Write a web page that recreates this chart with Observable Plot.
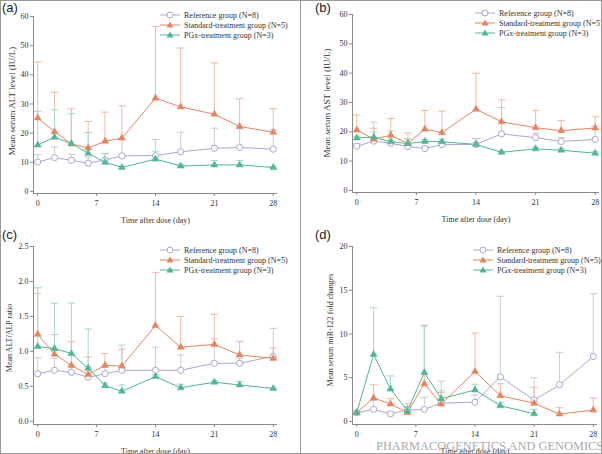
<!DOCTYPE html>
<html><head><meta charset="utf-8">
<script src="https://cdn.jsdelivr.net/npm/d3@7"></script>
<script src="https://cdn.jsdelivr.net/npm/@observablehq/plot@0.6"></script>
<style>
body{margin:0;background:#fff;}
#root{position:relative;width:602px;height:454px;overflow:hidden;font-family:"Liberation Serif","Times New Roman",serif;}
.panel{position:absolute;width:301px;height:227px;}
.letter{position:absolute;font-family:"Liberation Sans",Arial,sans-serif;font-size:13px;color:#222;}
.legend{position:absolute;font-size:8px;color:#333;}
.legend .row{display:flex;align-items:center;height:10px;white-space:nowrap;}
.legend svg{margin-right:2px;}
.ylab{position:absolute;white-space:nowrap;color:#333;transform:translate(-50%,-50%) rotate(-90deg);}
.border{position:absolute;border:1px solid #9a9a9a;box-sizing:border-box;}
.wm{position:absolute;font-family:"Liberation Serif",serif;font-size:12.4px;line-height:1;color:#aaa;white-space:nowrap;}
</style></head>
<body><div id="root"></div>
<script>
// ---------- data ----------
const days = [0, 2, 4, 6, 8, 10, 14, 17, 21, 24, 28];
const xTicks = [0, 7, 14, 21, 28];
const groupNames = ["Reference group (N=8)", "Standard-treatment group (N=5)", "PGx-treatment group (N=3)"];

// (a) ALT
const altRef      = [10.1, 11.6, 10.7, 9.7, 10.8, 12.2, 12.3, 13.6, 14.8, 15.1, 14.5];
const altRefUp    = [12.7, 15.3, 12.7, 11.8, 13.0, 18.0, 17.8, 20.3, 21.7, 21.5, 21.2];
const altStd      = [25.2, 20.5, 16.3, 14.9, 17.2, 18.3, 32.0, 29.0, 26.5, 22.3, 20.3];
const altStdUp    = [44.4, 34.0, 28.3, 24.0, 27.2, 29.4, 56.6, 49.2, 44.1, 31.8, 28.4];
const altPgx      = [15.9, 18.6, 16.4, 13.1, 10.0, 8.2, 11.1, 8.7, 9.1, 9.1, 8.2];
const altPgxUp    = [27.5, 28.0, 26.7, 20.2, 13.0, 8.6, 13.8, 9.3, 10.6, 10.6, 8.6];

// (b) AST
const astRef      = [15.1, 16.8, 16.1, 15.0, 14.3, 15.6, 15.7, 19.3, 18.0, 16.7, 17.4];
const astRefUp    = [16.0, 23.3, 17.5, 17.5, 15.0, 16.5, 17.7, 28.3, 19.5, 18.0, 22.0];
const astStd      = [20.6, 17.5, 18.8, 16.0, 20.9, 19.7, 27.7, 23.4, 21.4, 20.4, 21.3];
const astStdUp    = [25.7, 21.2, 24.5, 19.6, 27.3, 27.1, 40.0, 30.9, 27.2, 23.8, 25.1];
const astPgx      = [17.9, 18.2, 16.6, 16.0, 16.7, 16.6, 15.7, 13.0, 14.2, 13.7, 12.7];
const astPgxUp    = [18.5, 20.0, 20.2, 17.5, 17.3, 17.5, 17.7, 13.5, 14.8, 14.3, 13.2];

// (c) ALT/ALP ratio
const ratRef      = [0.68, 0.73, 0.70, 0.63, 0.68, 0.73, 0.73, 0.73, 0.83, 0.83, 0.93];
const ratRefUp    = [0.91, 0.90, 0.80, 0.78, 0.80, 1.09, 1.06, 0.95, 1.18, 0.90, 1.33];
const ratStd      = [1.245, 0.96, 0.80, 0.67, 0.80, 0.79, 1.37, 1.06, 1.10, 0.95, 0.90];
const ratStdUp    = [1.83, 1.24, 1.14, 0.92, 0.97, 1.03, 2.13, 1.50, 1.53, 1.14, 1.05];
const ratPgx      = [1.07, 1.04, 0.97, 0.76, 0.51, 0.43, 0.64, 0.48, 0.56, 0.52, 0.47];
const ratPgxUp    = [1.91, 1.69, 1.69, 1.32, 0.55, 0.52, 0.67, 0.53, 0.58, 0.57, 0.48];

// (d) miR-122 fold changes
const mirRef      = [1.0, 1.38, 0.88, 1.3, 1.38, 2.1, 2.2, 5.1, 2.45, 4.18, 7.43];
const mirRefUp    = [1.1, 2.4, 1.1, 1.7, 2.76, 4.6, 3.0, 14.3, 5.0, 7.9, 14.6];
const mirStd      = [1.0, 2.68, 2.0, 1.03, 4.3, 2.0, 5.7, 2.95, 2.07, 0.84, 1.3];
const mirStdUp    = [1.05, 4.2, 2.6, 2.03, 10.9, 3.3, 10.1, 4.3, 3.9, 1.57, 2.68];
const mirPgx      = [1.0, 7.66, 3.7, 1.2, 5.6, 2.6, 3.6, 1.8, 0.88, null, null];
const mirPgxUp    = [1.05, 13.0, 5.2, 1.5, 11.0, 3.5, 4.25, 2.2, 1.38, null, null];

// ---------- styles ----------
const lineColors = ["#a4a9d2", "#e8835e", "#4db891"];
const errColors  = ["#c9cbd8", "#f1b8a0", "#a3dbc5"];
const symbols    = ["circle", "triangle", "triangle"];
const axisColor  = "#8a8a8a";

const panels = [
  {letter:"(a)", left:0, top:0, ml:33, mr:24, mt:16, mb:34, yDomain:[-0.7,60], yTicks:[0,10,20,30,40,50,60], fmt:d3.format("d"),
   yLabel:"Mean serum ALT level (IU/L)", ylPos:[12,101], ylSize:9, series:[[altRef,altRefUp],[altStd,altStdUp],[altPgx,altPgxUp]],
   letterPos:[2,0], legendPos:[160,10]},
  {letter:"(b)", left:301, top:0, ml:51, mr:3, mt:14, mb:35, yDomain:[-0.7,60], yTicks:[0,10,20,30,40,50,60], fmt:d3.format("d"),
   yLabel:"Mean serum AST level (IU/L)", ylPos:[26,103], ylSize:9, series:[[astRef,astRefUp],[astStd,astStdUp],[astPgx,astPgxUp]],
   letterPos:[14,0], legendPos:[174,8]},
  {letter:"(c)", left:0, top:227, ml:33, mr:24, mt:19, mb:30, yDomain:[-0.045,2.5], yTicks:[0,0.5,1,1.5,2,2.5], fmt:d3.format(".1f"),
   yLabel:"Mean ALT/ALP ratio", ylPos:[9,111], ylSize:8, series:[[ratRef,ratRefUp],[ratStd,ratStdUp],[ratPgx,ratPgxUp]],
   letterPos:[2,0], legendPos:[160,18]},
  {letter:"(d)", left:301, top:227, ml:51, mr:5, mt:19, mb:30, yDomain:[-0.35,20], yTicks:[0,5,10,15,20], fmt:d3.format("d"),
   yLabel:"Mean serum miR-122 fold changes", ylPos:[29,103], ylSize:8, series:[[mirRef,mirRefUp],[mirStd,mirStdUp],[mirPgx,mirPgxUp]],
   letterPos:[14,0], legendPos:[172,18]}
];

const root = document.getElementById("root");

function rowsOf(vals, ups){
  return days.map((d,i)=>({day:d, mean:vals[i], upper:ups[i]})).filter(r=>r.mean!=null);
}

for (const p of panels){
  const data = p.series.map(([v,u])=>rowsOf(v,u));
  const marks = [
    Plot.ruleX([-0.5], {stroke:axisColor}),
    Plot.ruleY([p.yDomain[0]], {stroke:axisColor}),
    Plot.axisX({ticks:xTicks, tickSize:3, tickPadding:4, stroke:axisColor, color:"#333",
      label:"Time after dose (day)", labelAnchor:"center", labelOffset:29, labelArrow:"none"}),
    Plot.axisY({ticks:p.yTicks, tickFormat:p.fmt, tickSize:3, tickPadding:2, stroke:axisColor, color:"#333", label:null})
  ];
  data.forEach((rows,k)=>{
    const er = rows.filter(r=>r.upper!=null);
    marks.push(Plot.ruleX(er, {x:"day", y1:"mean", y2:"upper", stroke:errColors[k], strokeWidth:1}));
    marks.push(Plot.link(er, {x1:r=>r.day-0.45, x2:r=>r.day+0.45, y1:"upper", y2:"upper", stroke:errColors[k], strokeWidth:1}));
  });
  data.forEach((rows,k)=>{
    marks.push(Plot.line(rows, {x:"day", y:"mean", stroke:lineColors[k], strokeWidth:1}));
  });
  data.forEach((rows,k)=>{
    marks.push(Plot.dot(rows, {x:"day", y:"mean", symbol:symbols[k], r: k===0?3.1:2.6,
      fill: k===0 ? "white" : lineColors[k], stroke: lineColors[k], strokeWidth: k===0?1:0.5}));
  });
  const svg = Plot.plot({
    width:301, height:227,
    marginLeft:p.ml, marginRight:p.mr, marginTop:p.mt, marginBottom:p.mb,
    x:{domain:[-0.5,28.5]},
    y:{domain:p.yDomain},
    style:{fontFamily:'"Liberation Serif","Times New Roman",serif', fontSize:"8px", color:"#333", background:"transparent", overflow:"visible"},
    marks
  });
  const box = document.createElement("div");
  box.className = "panel";
  box.style.left = p.left+"px"; box.style.top = p.top+"px";
  box.appendChild(svg);
  // y label
  const yl = document.createElement("div");
  yl.className = "ylab"; yl.textContent = p.yLabel;
  yl.style.left = p.ylPos[0]+"px"; yl.style.top = p.ylPos[1]+"px"; yl.style.fontSize = p.ylSize+"px";
  box.appendChild(yl);
  // letter
  const lt = document.createElement("div");
  lt.className = "letter"; lt.textContent = p.letter;
  lt.style.left = p.letterPos[0]+"px"; lt.style.top = p.letterPos[1]+"px";
  box.appendChild(lt);
  // legend
  const lg = document.createElement("div");
  lg.className = "legend";
  lg.style.left = p.legendPos[0]+"px"; lg.style.top = p.legendPos[1]+"px";
  groupNames.forEach((name,k)=>{
    const row = document.createElement("div"); row.className="row";
    const s = d3.create("svg").attr("width",22).attr("height",10);
    s.append("line").attr("x1",0).attr("x2",20).attr("y1",5).attr("y2",5).attr("stroke",lineColors[k]);
    if (k===0) s.append("circle").attr("cx",10).attr("cy",5).attr("r",3).attr("fill","white").attr("stroke",lineColors[k]);
    else s.append("path").attr("d", d3.symbol(d3.symbolTriangle, 22)()).attr("transform","translate(10,5.5)").attr("fill",lineColors[k]);
    row.appendChild(s.node());
    const t = document.createElement("span"); t.textContent = name;
    row.appendChild(t);
    lg.appendChild(row);
  });
  box.appendChild(lg);
  root.appendChild(box);
}
// borders
const b1 = document.createElement("div"); b1.className="border";
b1.style.cssText="left:0;top:0;width:301px;height:454px;"; root.appendChild(b1);
const b2 = document.createElement("div"); b2.className="border";
b2.style.cssText="left:300px;top:0;width:302px;height:454px;"; root.appendChild(b2);
// watermark
const wm = document.createElement("div"); wm.className="wm";
wm.textContent = "PHARMACOGENETICS AND GENOMICS";
wm.style.left="376px"; wm.style.top="440px"; root.appendChild(wm);
</script>
</body></html>
